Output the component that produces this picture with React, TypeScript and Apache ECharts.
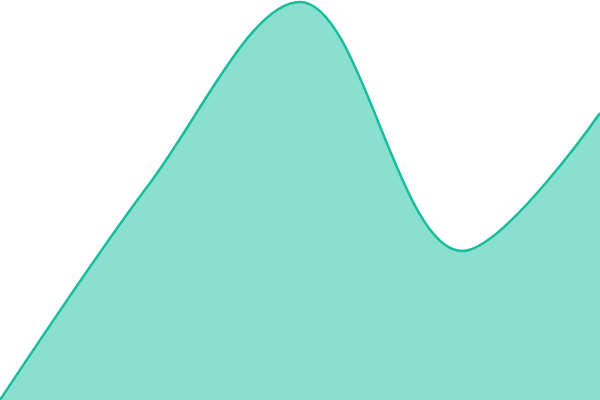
import React, { useEffect, useRef } from 'react';
import * as echarts from 'echarts';

// Узлы кривой: положение по X (0–100) и значение (0–100)
const xPositions = [0, 25, 50, 77, 100];
const values = [0, 54.25, 99.5, 37.25, 71.75];

const lineColor = '#1abc9c';
const areaColor = '#89e0cf';

export default function App() {
  const chartRef = useRef<HTMLDivElement>(null);

  useEffect(() => {
    const chart = echarts.init(chartRef.current!, undefined, { renderer: 'svg' });

    chart.setOption({
      animation: false,
      grid: { left: 0, right: 0, top: 0, bottom: 0 },
      xAxis: {
        type: 'value',
        min: 0,
        max: 100,
        show: false,
      },
      yAxis: {
        type: 'value',
        min: 0,
        max: 100,
        show: false,
      },
      series: [
        {
          type: 'line',
          data: xPositions.map((x, i) => [x, values[i]]),
          smooth: 0.35,
          symbol: 'none',
          lineStyle: { color: lineColor, width: 2.5 },
          areaStyle: { color: areaColor, opacity: 1 },
        },
      ],
    });

    return () => {
      chart.dispose();
    };
  }, []);

  return (
    <div style={{ position: 'fixed', left: 0, top: 0, width: '600px', height: '400px', background: 'white' }}>
      <div ref={chartRef} style={{ width: '600px', height: '400px' }} />
    </div>
  );
}
